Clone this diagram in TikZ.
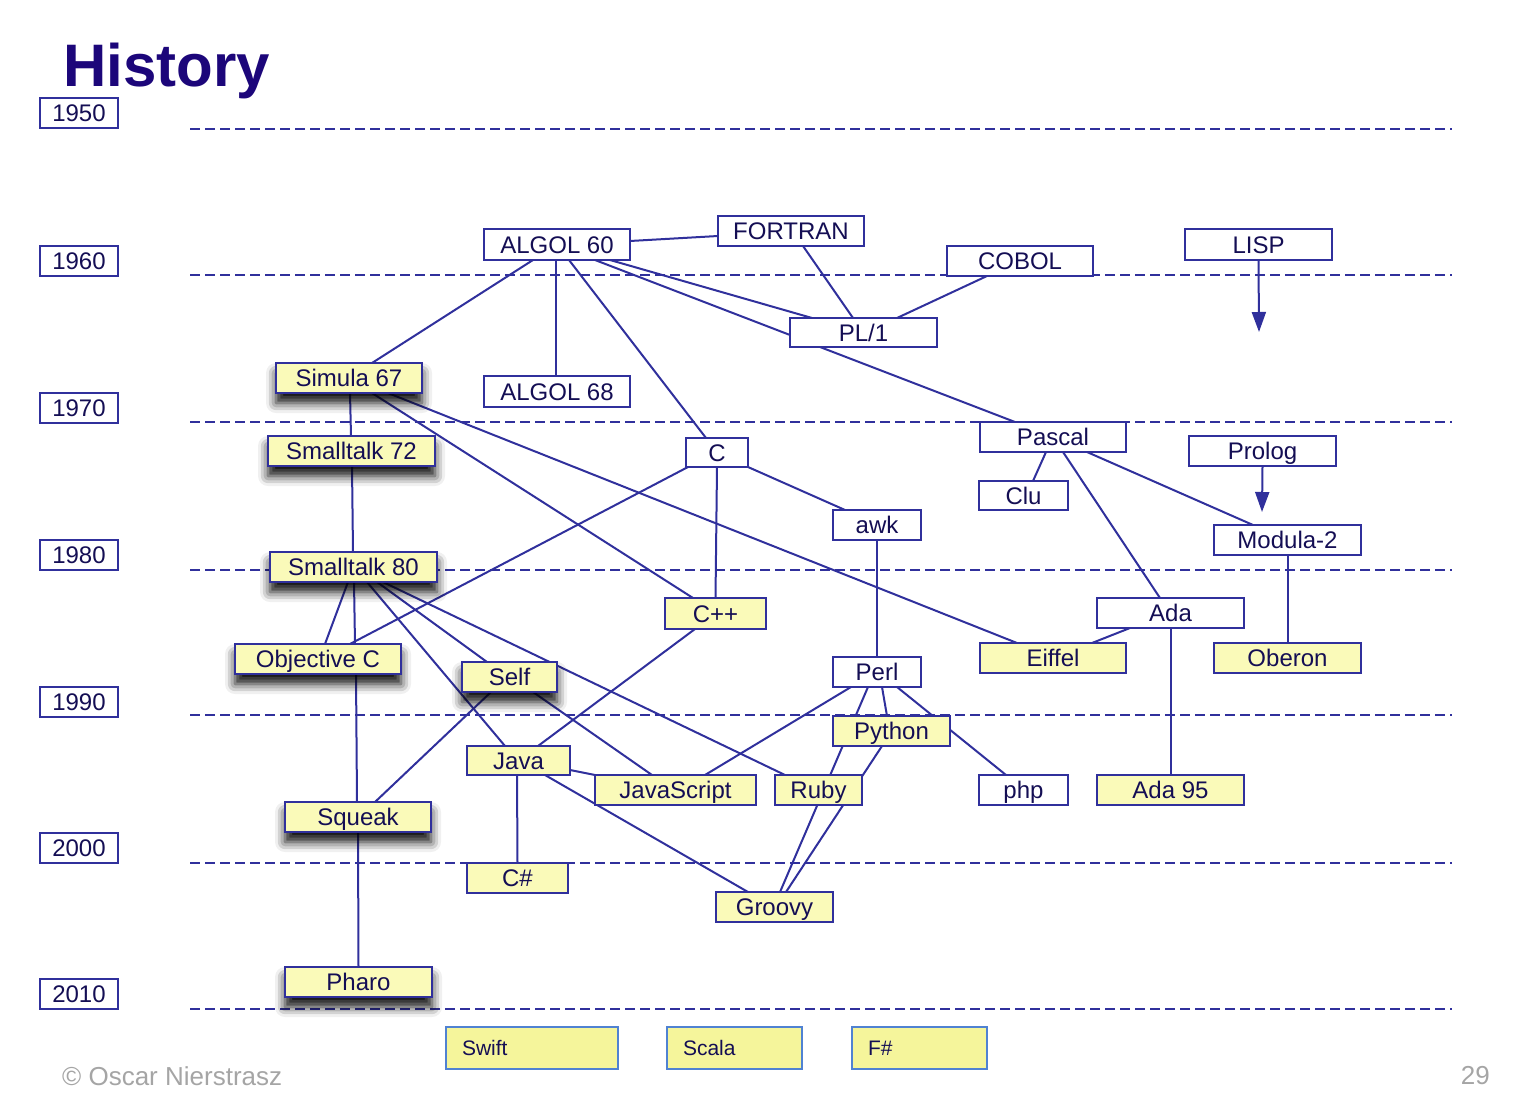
\documentclass[tikz,border=0pt]{standalone}
\usepackage{fontspec}
\setmainfont{Liberation Sans}
\usetikzlibrary{arrows.meta,shadows.blur}
\definecolor{lineblue}{RGB}{48,48,156}
\definecolor{txtblue}{RGB}{20,14,84}
\definecolor{boxyellow}{RGB}{250,250,185}
\definecolor{newyellow}{RGB}{245,245,155}
\definecolor{newborder}{RGB}{80,130,210}
\definecolor{titleblue}{RGB}{28,6,122}
\definecolor{footgray}{RGB}{165,165,165}
\pgfdeclarelayer{bg}
\pgfsetlayers{bg,main}
\tikzset{
  lang/.style={draw=lineblue, line width=2pt, fill=white, text=txtblue,
    font=\fontsize{24}{28}\selectfont, inner sep=0pt, outer sep=0pt,
    text height=17pt, text depth=0pt, anchor=center},
  ylang/.style={lang, fill=boxyellow},
  slang/.style={ylang, blur shadow={shadow xshift=0pt, shadow yshift=-10pt,
    shadow blur radius=10pt, shadow opacity=95}},
  yearbox/.style={lang, minimum width=78pt, minimum height=30pt},
  newbox/.style={draw=newborder, line width=1.4pt, fill=newyellow, text=txtblue,
    font=\fontsize{21}{24}\selectfont, inner xsep=16pt, inner ysep=0pt,
    minimum height=42pt, align=left, text height=15pt, text depth=0pt},
  yearline/.style={draw=lineblue, line width=2pt, dash pattern=on 10pt off 5pt},
  link/.style={draw=lineblue, line width=2pt},
  arr/.style={link, -{Triangle[length=20pt,width=14pt]}},
}
\begin{document}
\begin{tikzpicture}[x=1pt,y=-1pt]
\useasboundingbox (0,0) rectangle (1522,1102);

% title
\node[anchor=base west, font=\bfseries\fontsize{60}{60}\selectfont, text=titleblue, inner sep=0pt] (title) at (63,87) {History};

% year boxes
\foreach \yr/\yy in {1950/113,1960/261,1970/408,1980/555,1990/702,2000/848,2010/994}
  \node[yearbox] (y\yr) at (79,\yy) {\yr};

% languages
\node[lang, minimum width=146pt, minimum height=31pt] (alg60) at (557,244.5) {ALGOL 60};
\node[lang, minimum width=146pt, minimum height=30pt] (fortran) at (791,231) {FORTRAN};
\node[lang, minimum width=146pt, minimum height=30pt] (cobol) at (1020,261) {COBOL};
\node[lang, minimum width=147pt, minimum height=31pt] (lisp) at (1258.5,244.5) {LISP};
\node[lang, minimum width=147pt, minimum height=29pt] (pl1) at (863.5,332.5) {PL/1};
\node[slang, minimum width=146pt, minimum height=30pt] (sim67) at (349,378) {Simula 67};
\node[lang, minimum width=146pt, minimum height=31pt] (alg68) at (557,391.5) {ALGOL 68};
\node[slang, minimum width=167pt, minimum height=30pt] (st72) at (351.5,451) {Smalltalk 72};
\node[lang, minimum width=62pt, minimum height=29pt] (c) at (717,452.5) {C};
\node[lang, minimum width=146pt, minimum height=30pt] (pascal) at (1053,437) {Pascal};
\node[lang, minimum width=147pt, minimum height=30pt] (prolog) at (1262.5,451) {Prolog};
\node[lang, minimum width=89pt, minimum height=29pt] (clu) at (1023.5,495.5) {Clu};
\node[lang, minimum width=88pt, minimum height=30pt] (awk) at (877,525) {awk};
\node[lang, minimum width=147pt, minimum height=30pt] (mod2) at (1287.5,540) {Modula-2};
\node[slang, minimum width=167pt, minimum height=30pt] (st80) at (353.5,567) {Smalltalk 80};
\node[ylang, minimum width=101pt, minimum height=31pt] (cpp) at (715.5,613.5) {C++};
\node[lang, minimum width=147pt, minimum height=30pt] (ada) at (1170.5,613) {Ada};
\node[slang, minimum width=166pt, minimum height=30pt] (objc) at (318,659) {Objective C};
\node[ylang, minimum width=146pt, minimum height=30pt] (eiffel) at (1053,658) {Eiffel};
\node[ylang, minimum width=147pt, minimum height=30pt] (oberon) at (1287.5,658) {Oberon};
\node[lang, minimum width=88pt, minimum height=30pt] (perl) at (877,672) {Perl};
\node[slang, minimum width=95pt, minimum height=30pt] (self) at (509.5,677) {Self};
\node[ylang, minimum width=117pt, minimum height=30pt] (python) at (891.5,731) {Python};
\node[ylang, minimum width=103pt, minimum height=29pt] (java) at (518.5,760.5) {Java};
\node[ylang, minimum width=161pt, minimum height=30pt] (js) at (675.5,790) {JavaScript};
\node[ylang, minimum width=87pt, minimum height=30pt] (ruby) at (818.5,790) {Ruby};
\node[lang, minimum width=89pt, minimum height=30pt] (php) at (1023.5,790) {php};
\node[ylang, minimum width=147pt, minimum height=30pt] (ada95) at (1170.5,790) {Ada 95};
\node[slang, minimum width=146pt, minimum height=30pt] (squeak) at (358,817) {Squeak};
\node[ylang, minimum width=101pt, minimum height=30pt] (csharp) at (517.5,878) {C\#};
\node[ylang, minimum width=117pt, minimum height=30pt] (groovy) at (774.5,907) {Groovy};
\node[slang, minimum width=147pt, minimum height=30pt] (pharo) at (358.5,982) {Pharo};

\node[newbox, minimum width=172pt, text width=140pt] (swift) at (532,1048) {Swift};
\node[newbox, minimum width=135pt, text width=103pt] (scala) at (734.5,1048) {Scala};
\node[newbox, minimum width=135pt, text width=103pt] (fsharp) at (919.5,1048) {F\#};

\coordinate (lispend) at (1259,332);
\coordinate (prologend) at (1262,512);

% footer
\node[anchor=west, text=footgray, font=\fontsize{26}{26}\selectfont, inner sep=0pt] (copy) at (62,1076) {© Oscar Nierstrasz};
\node[anchor=east, text=footgray, font=\fontsize{26}{26}\selectfont, inner sep=0pt] (pagenum) at (1490,1076) {29};

\begin{pgfonlayer}{bg}
\foreach \dy in {129,275,422,570,715,863,1009}
  \draw[yearline] (190,\dy) -- (1452,\dy);

\draw[link] ([yshift=3.5]alg60.east) -- ([yshift=-5]fortran.west);
\draw[link] ([xshift=49]alg60.south west) -- ([xshift=96]sim67.north west);
\draw[link] ([xshift=-1]alg60.south) -- ([xshift=-1]alg68.north);
\draw[link] ([xshift=85]alg60.south west) -- ([xshift=20]c.north west);
\draw[link] ([xshift=111]alg60.south west) -- ([yshift=-2.5]pl1.west);
\draw[link] ([xshift=126]alg60.south west) -- ([xshift=22]pl1.north west);
\draw[link] ([xshift=85]fortran.south west) -- ([xshift=63]pl1.north west);
\draw[link] ([xshift=40]cobol.south west) -- ([xshift=107]pl1.north west);
\draw[link] ([xshift=30]pl1.south west) -- ([xshift=35]pascal.north west);
\draw[arr] (lisp.south) -- (lispend);
\draw[arr] (prolog.south) -- (prologend);
\draw[link] ([xshift=74]sim67.south west) -- ([xshift=83]st72.north west);
\draw[link] ([xshift=96]sim67.south west) -- ([xshift=28]cpp.north west);
\draw[link] ([xshift=112]sim67.south west) -- ([xshift=37]eiffel.north west);
\draw[link] ([xshift=84]st72.south west) -- ([xshift=83]st80.north west);
\draw[link] ([xshift=2]c.south west) -- ([xshift=115]objc.north west);
\draw[link] (c.south) -- (cpp.north);
\draw[link] (c.south east) -- ([xshift=12]awk.north west);
\draw[link] ([xshift=66]pascal.south west) -- ([xshift=54]clu.north west);
\draw[link] ([xshift=83]pascal.south west) -- ([xshift=63]ada.north west);
\draw[link] ([xshift=107]pascal.south west) -- ([xshift=39]mod2.north west);
\draw[link] (awk.south) -- (perl.north);
\draw[link] (mod2.south) -- (oberon.north);
\draw[link] ([xshift=78]st80.south west) -- ([xshift=90]objc.north west);
\draw[link] ([xshift=84]st80.south west) -- ([xshift=120]objc.north west);
\draw[link] ([xshift=97]st80.south west) -- ([xshift=38]java.north west);
\draw[link] ([xshift=107]st80.south west) -- ([xshift=25]self.north west);
\draw[link] ([xshift=113]st80.south west) -- ([xshift=10]ruby.north west);
\draw[link] ([xshift=29]self.south west) -- ([xshift=90]squeak.north west);
\draw[link] ([xshift=71]self.south west) -- ([xshift=57]js.north west);
\draw[link] ([xshift=30]cpp.south west) -- ([xshift=71]java.north west);
\draw[link] ([yshift=-9.5]java.east) -- (js.north west);
\draw[link] ([xshift=-1.5]java.south) -- (csharp.north);
\draw[link] ([xshift=78]java.south west) -- ([xshift=32]groovy.north west);
\draw[link] ([xshift=121]objc.south west) -- ([xshift=72]squeak.north west);
\draw[link] (squeak.south) -- (pharo.north);
\draw[link] ([xshift=18]perl.south west) -- ([xshift=110]js.north west);
\draw[link] ([xshift=35]perl.south west) -- ([xshift=64]groovy.north west);
\draw[link] ([xshift=49]perl.south west) -- ([xshift=54]python.north west);
\draw[link] ([xshift=64]perl.south west) -- ([xshift=27]php.north west);
\draw[link] ([xshift=49]python.south west) -- ([xshift=70]groovy.north west);
\draw[link] (ada.south) -- (ada95.north);
\draw[link] ([xshift=33]ada.south west) -- ([xshift=-34]eiffel.north east);
\end{pgfonlayer}
\end{tikzpicture}
\end{document}
